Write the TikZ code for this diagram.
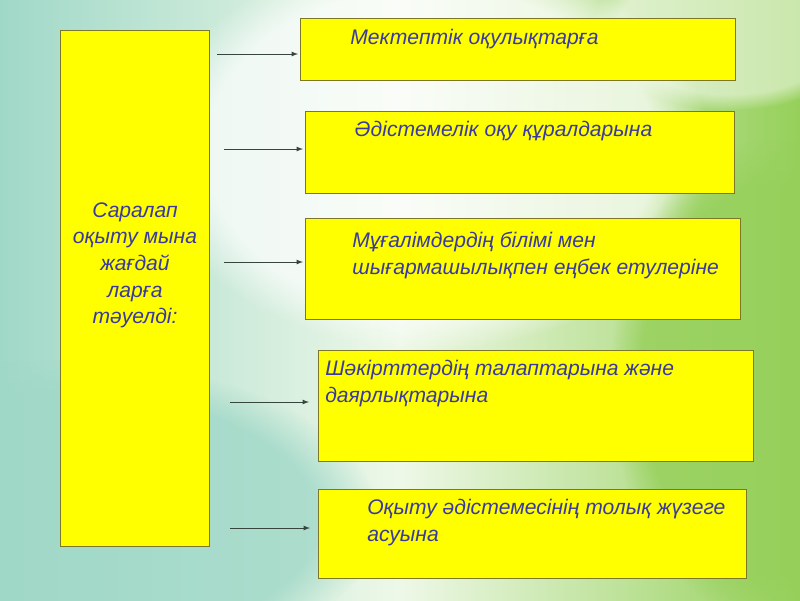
\documentclass[tikz,border=0pt]{standalone}
\usepackage{fontspec}
\setmainfont{Liberation Sans}
\usetikzlibrary{positioning,fadings}

\definecolor{boxyellow}{RGB}{255,255,0}
\definecolor{boxedge}{RGB}{125,120,40}
\definecolor{textblue}{RGB}{58,58,158}
\definecolor{arrowgray}{RGB}{55,70,60}
\definecolor{bgteal}{RGB}{160,216,200}
\definecolor{bggreen}{RGB}{150,208,90}
\definecolor{bglight}{RGB}{238,248,232}

\begin{document}
\begin{tikzpicture}[x=0.025cm,y=-0.025cm,
  leftbox/.style={draw=boxedge,fill=boxyellow,line width=0.7pt,anchor=north west,inner sep=0pt},
  optbox/.style={draw=boxedge,fill=boxyellow,line width=0.7pt,anchor=north west,inner sep=0pt},
  opttext/.style={anchor=north west,inner sep=0pt,align=left,text=textblue,
    font=\fontsize{15}{19}\selectfont\itshape},
  link/.style={-latex,draw=arrowgray,line width=0.6pt}]
% background
\useasboundingbox (0,0) rectangle (800,600);
\shade[left color=bgteal,right color=bggreen,middle color=bglight] (0,0) rectangle (800,600);
\fill[white,opacity=0.7,path fading=circle with fuzzy edge 20 percent] (430,150) ellipse [x radius=7cm,y radius=5cm];
\fill[bgteal,opacity=0.8,path fading=circle with fuzzy edge 20 percent] (60,520) ellipse [x radius=8cm,y radius=4cm];
\fill[bggreen,opacity=0.8,path fading=circle with fuzzy edge 20 percent] (770,380) ellipse [x radius=4cm,y radius=6cm];
\fill[white,opacity=0.5,path fading=circle with fuzzy edge 20 percent] (730,30) ellipse [x radius=3.5cm,y radius=2cm];

% boxes
\node[leftbox,minimum width=3.725cm,minimum height=12.9cm] (cond) at (60,30) {};
\node[optbox,minimum width=10.875cm,minimum height=1.55cm] (b1) at (300,18) {};
\node[optbox,minimum width=10.725cm,minimum height=2.05cm] (b2) at (305,111) {};
\node[optbox,minimum width=10.875cm,minimum height=2.525cm] (b3) at (305,218) {};
\node[optbox,minimum width=10.875cm,minimum height=2.775cm] (b4) at (318,350) {};
\node[optbox,minimum width=10.7cm,minimum height=2.225cm] (b5) at (318,489) {};

% texts
\node[opttext,anchor=north,align=center] (condtext) at (135,202)
  {Саралап\\оқыту мына\\жағдай\\ларға\\тәуелді:};
\node[opttext] (t1) at (350,29) {Мектептік оқулықтарға};
\node[opttext] (t2) at (354,121) {Әдістемелік оқу құралдарына};
\node[opttext] (t3) at (352,232) {Мұғалімдердің білімі мен\\шығармашылықпен еңбек етулеріне};
\node[opttext] (t4) at (325,360) {Шәкірттердің талаптарына және\\даярлықтарына};
\node[opttext] (t5) at (367,499) {Оқыту әдістемесінің толық жүзеге\\асуына};

% arrows
\coordinate (s1) at (217,54);  \coordinate (e1) at (298,54);
\coordinate (s2) at (224,149); \coordinate (e2) at (303,149);
\coordinate (s3) at (224,262); \coordinate (e3) at (303,262);
\coordinate (s4) at (230,402); \coordinate (e4) at (309,402);
\coordinate (s5) at (230,528); \coordinate (e5) at (310,528);
\draw[link] (s1) -- (e1);
\draw[link] (s2) -- (e2);
\draw[link] (s3) -- (e3);
\draw[link] (s4) -- (e4);
\draw[link] (s5) -- (e5);
\end{tikzpicture}
\end{document}
